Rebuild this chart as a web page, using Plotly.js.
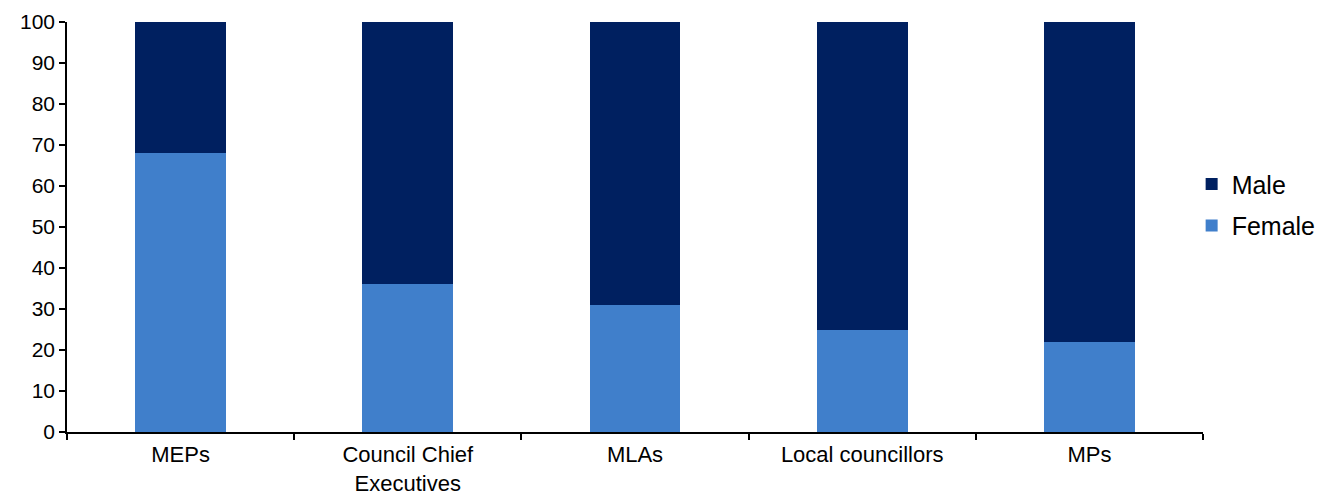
<!DOCTYPE html>
<html><head><meta charset="utf-8">
<script src="https://cdn.plot.ly/plotly-3.0.1.min.js"></script>
<style>html,body{margin:0;padding:0;background:#fff}</style>
</head><body>
<div id="chart" style="width:1328px;height:497px"></div>
<script>
const categories = ["MEPs", "Council Chief<br>Executives", "MLAs", "Local councillors", "MPs"];
const female = [68, 36, 31, 25, 22];
const male = [32, 64, 69, 75, 78];

const traces = [
  {type: "bar", name: "Female", legendgroup: "f", legendrank: 2, x: categories, y: female, marker: {color: "#407FCB"}, width: 0.4},
  {type: "bar", name: "Male", legendgroup: "m", legendrank: 1, x: categories, y: male, marker: {color: "#002060"}, width: 0.4}
];
const layout = {
  barmode: "stack",
  width: 1328, height: 497,
  margin: {l: 67, r: 125, t: 22, b: 65, autoexpand: false},
  paper_bgcolor: "#fff", plot_bgcolor: "#fff",
  font: {family: "Liberation Sans, Arial, sans-serif", size: 22, color: "#000"},
  showlegend: true,
  legend: {traceorder: "grouped", tracegroupgap: 6, x: 0.99, xanchor: "left", y: 0.554, yanchor: "middle", font: {size: 25}, itemwidth: 30},
  xaxis: {showline: true, linecolor: "#000", linewidth: 1.5, ticks: "outside", tickson: "boundaries", ticklen: 6, tickcolor: "#000", tickwidth: 1.5, showgrid: false, tickfont: {size: 22}, ticklabelstandoff: 2},
  yaxis: {range: [0, 100], dtick: 10, showline: true, linecolor: "#000", linewidth: 1.5, ticks: "outside", ticklen: 6, tickcolor: "#000", tickwidth: 1.5, showgrid: false, zeroline: false, tickfont: {size: 21}}
};
Plotly.newPlot("chart", traces, layout, {displayModeBar: false});
</script>
</body></html>
